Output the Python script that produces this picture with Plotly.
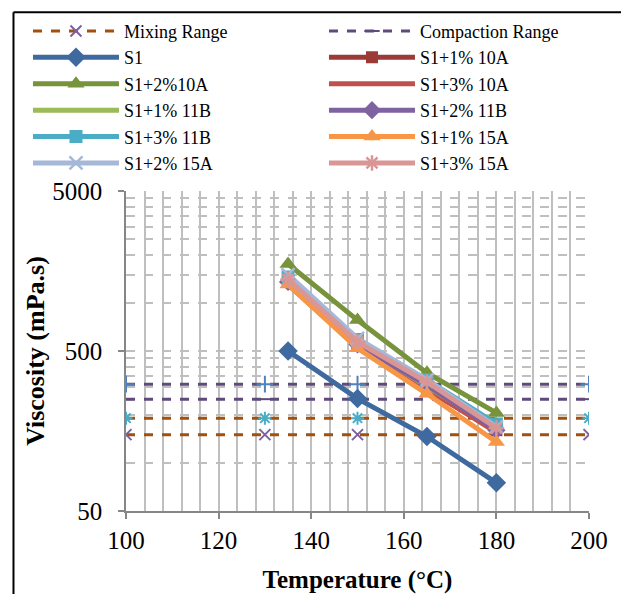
import plotly.graph_objects as go

# Temperatures at which viscosity was measured (°C)
temps = [135, 150, 165, 180]

# Viscosity of each binder (mPa.s)
s1 = [500, 252, 146, 75]
s1_1_10a = [1350, 540, 285, 160]
s1_2_10a = [1750, 780, 365, 205]
s1_3_10a = [1300, 530, 290, 155]
s1_1_11b = [1400, 560, 300, 165]
s1_2_11b = [1350, 550, 305, 160]
s1_3_11b = [1450, 590, 330, 175]
s1_1_15a = [1300, 520, 270, 135]
s1_2_15a = [1500, 600, 330, 168]
s1_3_15a = [1400, 570, 320, 165]

# Reference bands: mixing 170 ± 20, compaction 280 ± 30 mPa.s
range_x = [100, 130, 150, 200]
mixing_low = [150, 150, 150, 150]
mixing_high = [190, 190, 190, 190]
compaction_low = [250, 250, 250, 250]
compaction_high = [310, 310, 310, 310]

# Grid values for the log axis
y_ticks = [50, 500, 5000]
y_minor = [100, 150, 200, 250, 300, 350, 400, 450,
           1000, 1500, 2000, 2500, 3000, 3500, 4000, 4500]

MIX = "#A0500F"
COMP = "#604A7B"

fig = go.Figure()

# Range bands first, so the binder curves sit on top
fig.add_trace(go.Scatter(
    x=range_x, y=mixing_low, name="Mixing Range", mode="lines+markers",
    line=dict(color=MIX, width=3, dash="dash"),
    marker=dict(symbol="x-thin-open", size=11, color="#7D60A0",
                line=dict(width=2, color="#7D60A0")),
))
fig.add_trace(go.Scatter(
    x=range_x, y=mixing_high, name="Mixing Range (upper)", mode="lines+markers",
    showlegend=False,
    line=dict(color=MIX, width=3, dash="dash"),
    marker=dict(symbol="asterisk-open", size=11, color="#4BACC6",
                line=dict(width=2, color="#4BACC6")),
))
fig.add_trace(go.Scatter(
    x=range_x, y=compaction_low, name="Compaction Range", mode="lines+markers",
    line=dict(color=COMP, width=3, dash="dash"),
    marker=dict(symbol="line-ew-open", size=11, color=COMP,
                line=dict(width=2, color=COMP)),
))
fig.add_trace(go.Scatter(
    x=range_x, y=compaction_high, name="Compaction Range (upper)",
    mode="lines+markers", showlegend=False,
    line=dict(color=COMP, width=3, dash="dash"),
    marker=dict(symbol="cross-thin-open", size=12, color="#4F81BD",
                line=dict(width=2, color="#4F81BD")),
))

series = [
    ("S1", s1, "#3F6A9F", "diamond", 15),
    ("S1+1% 10A", s1_1_10a, "#9A3B38", "square", 12),
    ("S1+2%10A", s1_2_10a, "#77933C", "triangle-up", 15),
    ("S1+3% 10A", s1_3_10a, "#C0504D", None, 0),
    ("S1+1% 11B", s1_1_11b, "#9BBB59", None, 0),
    ("S1+2% 11B", s1_2_11b, "#7F62A1", "diamond", 14),
    ("S1+3% 11B", s1_3_11b, "#4BACC6", "square", 13),
    ("S1+1% 15A", s1_1_15a, "#F79646", "triangle-up", 15),
    ("S1+2% 15A", s1_2_15a, "#A5B8D8", "x-thin-open", 13),
    ("S1+3% 15A", s1_3_15a, "#D99694", "asterisk-open", 13),
]

for name, vals, color, symbol, size in series:
    if symbol is None:
        fig.add_trace(go.Scatter(
            x=temps, y=vals, name=name, mode="lines",
            line=dict(color=color, width=5),
        ))
    else:
        marker = dict(symbol=symbol, size=size, color=color)
        if symbol.endswith("open"):
            marker["line"] = dict(width=2.5, color=color)
        fig.add_trace(go.Scatter(
            x=temps, y=vals, name=name, mode="lines+markers",
            line=dict(color=color, width=5), marker=marker,
        ))

FONT = "Liberation Serif"

fig.update_layout(
    width=621, height=594,
    margin=dict(l=126, r=32, t=187, b=83),
    paper_bgcolor="white", plot_bgcolor="white",
    font=dict(family=FONT, color="black", size=25),
    showlegend=True,
    legend=dict(
        orientation="h", x=-0.2117, y=1.557, xanchor="left", yanchor="top",
        itemwidth=86, entrywidth=195, entrywidthmode="pixels",
        font=dict(family=FONT, size=18, color="black"),
        bgcolor="rgba(0,0,0,0)", tracegroupgap=0,
    ),
    xaxis=dict(
        range=[100, 200], tick0=100, dtick=20, automargin=False,
        ticks="outside", ticklen=6, tickcolor="#868686", tickwidth=1.5,
        showline=True, linecolor="#868686", linewidth=1.5,
        showgrid=True, gridcolor="#BFBFBF", gridwidth=1.5,
        minor=dict(dtick=4, tick0=100, showgrid=True,
                   gridcolor="#BFBFBF", gridwidth=1.5),
        zeroline=False,
        tickfont=dict(family=FONT, size=25),
        title=dict(text="<b>Temperature (°C)</b>",
                   font=dict(family=FONT, size=25), standoff=18),
    ),
    yaxis=dict(
        type="log", range=[1.69897, 3.69897], automargin=False,
        tickvals=y_ticks, ticktext=[str(v) for v in y_ticks],
        ticks="outside", ticklen=6, tickcolor="#868686", tickwidth=1.5,
        ticklabelstandoff=11,
        showline=True, linecolor="#868686", linewidth=1.5,
        showgrid=True, gridcolor="#BFBFBF", gridwidth=1.5, griddash="dash",
        minor=dict(tickvals=y_minor, showgrid=True, gridcolor="#BFBFBF",
                   gridwidth=1.5, griddash="dash"),
        zeroline=False,
        tickfont=dict(family=FONT, size=25),
        title=dict(text="<b>Viscosity (mPa.s)</b>",
                   font=dict(family=FONT, size=26), standoff=0),
    ),
    shapes=[
        dict(type="line", xref="paper", yref="paper",
             x0=-0.2430, x1=-0.2430, y0=-0.3, y1=1.5586,
             line=dict(color="black", width=2)),
        dict(type="line", xref="paper", yref="paper",
             x0=-0.2430, x1=1.1, y0=1.5586, y1=1.5586,
             line=dict(color="black", width=2)),
    ],
)

fig.write_html("out.html")
